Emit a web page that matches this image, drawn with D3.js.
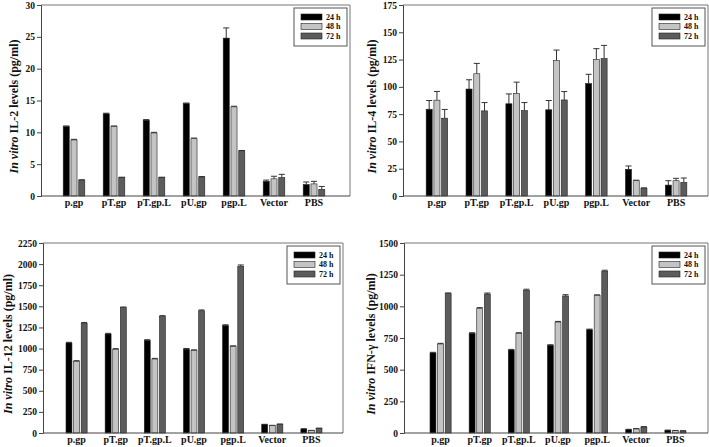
<!DOCTYPE html>
<html><head><meta charset="utf-8">
<script src="https://cdn.jsdelivr.net/npm/d3@7"></script>
<style>body{margin:0;background:#fff}svg{display:block}text{font-family:"Liberation Serif","Times New Roman",serif;font-weight:bold}</style>
</head><body><svg id="c" width="709" height="447"></svg>
<script>
const categories = ["p.gp","pT.gp","pT.gp.L","pU.gp","pgp.L","Vector","PBS"];
const seriesNames = ["24 h","48 h","72 h"];
const seriesColors = ["#000000","#c4c4c4","#5c5c5c"];

// IL-2
const il2_24 = [10.9,12.9,11.9,14.5,24.8,2.3,1.8];
const il2_48 = [8.8,10.9,9.9,9.0,14.0,2.7,1.9];
const il2_72 = [2.5,2.9,2.9,3.0,7.1,2.9,1.05];
const il2_24e = [0.1,0.1,0.1,0.1,1.6,0.2,0.4];
const il2_48e = [0.1,0.1,0.1,0.1,0.1,0.4,0.4];
const il2_72e = [0.05,0.05,0.05,0.05,0.05,0.5,0.45];
const il2_ticks = [0,5,10,15,20,25,30];

// IL-4
const il4_24 = [79.5,98,84.5,79,103,24.5,10];
const il4_48 = [87.8,112,93.8,124,125,14,14];
const il4_72 = [71.3,78,78.3,88,126,7,12.5];
const il4_24e = [8,8.5,9,8.5,8.5,3,4];
const il4_48e = [8,9.5,10.5,9.7,10,0.5,2.2];
const il4_72e = [8,7.6,7.3,7.7,12,0.5,4];
const il4_ticks = [0,25,50,75,100,125,150,175];

// IL-12
const il12_24 = [1066,1172,1097,993,1272,99,47];
const il12_48 = [849,991,876,975,1025,87,28];
const il12_72 = [1299,1484,1380,1447,1975,103,55];
const il12_24e = [8,8,8,8,10,4,3];
const il12_48e = [8,8,8,10,8,4,3];
const il12_72e = [10,8,10,10,15,4,3];
const il12_ticks = [0,250,500,750,1000,1250,1500,1750,2000,2250];

// IFN-gamma
const ifn_24 = [632,787,655,692,815,26,21];
const ifn_48 = [703,982,787,876,1085,32,18];
const ifn_72 = [1100,1097,1127,1082,1277,47,16];
const ifn_24e = [5,5,5,5,5,3,2];
const ifn_48e = [5,8,5,5,6,3,2];
const ifn_72e = [6,8,8,10,8,3,2];
const ifn_ticks = [0,250,500,750,1000,1250,1500];

const panels = [
  {label:"IL-2 levels (pg/ml)", vals:[il2_24,il2_48,il2_72], errs:[il2_24e,il2_48e,il2_72e], ticks:il2_ticks,
   L:41,R:350,T:5,B:196, x0:54, x1:334, labX:14},
  {label:"IL-4 levels (pg/ml)", vals:[il4_24,il4_48,il4_72], errs:[il4_24e,il4_48e,il4_72e], ticks:il4_ticks,
   L:403,R:708,T:5,B:196, x0:417, x1:696, labX:372},
  {label:"IL-12 levels (pg/ml)", vals:[il12_24,il12_48,il12_72], errs:[il12_24e,il12_48e,il12_72e], ticks:il12_ticks,
   L:43,R:343,T:243,B:433, x0:57, x1:331, labX:8},
  {label:"IFN-\u03B3 levels (pg/ml)", vals:[ifn_24,ifn_48,ifn_72], errs:[ifn_24e,ifn_48e,ifn_72e], ticks:ifn_ticks,
   L:404,R:708,T:243,B:433, x0:421, x1:695, labX:371}
];

const svg = d3.select("#c");

panels.forEach(p => {
  const g = svg.append("g");
  const y = d3.scaleLinear().domain([0, d3.max(p.ticks)]).range([p.B, p.T]);
  const x = d3.scaleBand().domain(categories).range([p.x0, p.x1]).paddingInner(0.46).paddingOuter(0.23);
  const xs = d3.scaleBand().domain(seriesNames).range([0, x.bandwidth()]).paddingInner(0.22);

  // frame top/right
  g.append("path").attr("d", `M${p.L},${p.T}H${p.R}V${p.B}`).attr("fill","none").attr("stroke","#777").attr("stroke-width",1);

  // bars
  seriesNames.forEach((s, si) => {
    categories.forEach((c, ci) => {
      const v = p.vals[si][ci], e = p.errs[si][ci];
      const bx = x(c) + xs(s), bw = xs.bandwidth();
      const cx = bx + bw/2;
      g.append("line").attr("x1",cx).attr("x2",cx).attr("y1",y(v)).attr("y2",y(v+e)).attr("stroke","#333").attr("stroke-width",1);
      g.append("line").attr("x1",bx).attr("x2",bx+bw).attr("y1",y(v+e)).attr("y2",y(v+e)).attr("stroke","#333").attr("stroke-width",1);
      g.append("rect").attr("x",bx).attr("y",y(v)).attr("width",bw).attr("height",p.B - y(v))
        .attr("fill",seriesColors[si]).attr("stroke","#222").attr("stroke-width",0.6);
    });
  });

  // y axis
  const ya = g.append("g").attr("transform",`translate(${p.L},0)`)
    .call(d3.axisLeft(y).tickValues(p.ticks).tickSize(4).tickPadding(2).tickFormat(d3.format("d")));
  ya.select(".domain").attr("stroke","#444");
  ya.selectAll(".tick line").attr("stroke","#444");
  ya.selectAll("text").attr("font-size",9.5).attr("fill","#111").style("font-family","'Liberation Serif',serif").style("font-weight","bold");

  // x axis
  const xa = g.append("g").attr("transform",`translate(0,${p.B})`)
    .call(d3.axisBottom(x).tickSize(0).tickPadding(3));
  xa.select(".domain").attr("d",`M${p.L},0H${p.R}`).attr("stroke","#444");
  xa.selectAll("text").attr("font-size",10).attr("fill","#111").style("font-family","'Liberation Serif',serif").style("font-weight","bold");

  // y label
  const cy = (p.T + p.B)/2 + 6;
  const t = g.append("text").attr("transform",`translate(${p.labX},${cy}) rotate(-90)`)
    .attr("text-anchor","middle").attr("dy","0.35em").attr("font-size",12).attr("fill","#111");
  t.append("tspan").attr("font-style","italic").text("In vitro ");
  t.append("tspan").text(p.label);

  // legend
  const lw = 53, lh = 38;
  const lx = p.R - lw - 3, ly = p.T + 3;
  const lg = g.append("g").attr("transform",`translate(${lx},${ly})`);
  lg.append("rect").attr("width",lw).attr("height",lh).attr("fill","#fff").attr("stroke","#555").attr("stroke-width",1);
  seriesNames.forEach((s, si) => {
    const yy = 9 + si*9.5;
    lg.append("rect").attr("x",7).attr("y",yy-3).attr("width",21).attr("height",6)
      .attr("fill",seriesColors[si]).attr("stroke","#222").attr("stroke-width",0.6);
    lg.append("text").attr("x",32).attr("y",yy).attr("dy","0.35em").attr("font-size",8).attr("fill","#111").text(s);
  });
});
</script></body></html>
